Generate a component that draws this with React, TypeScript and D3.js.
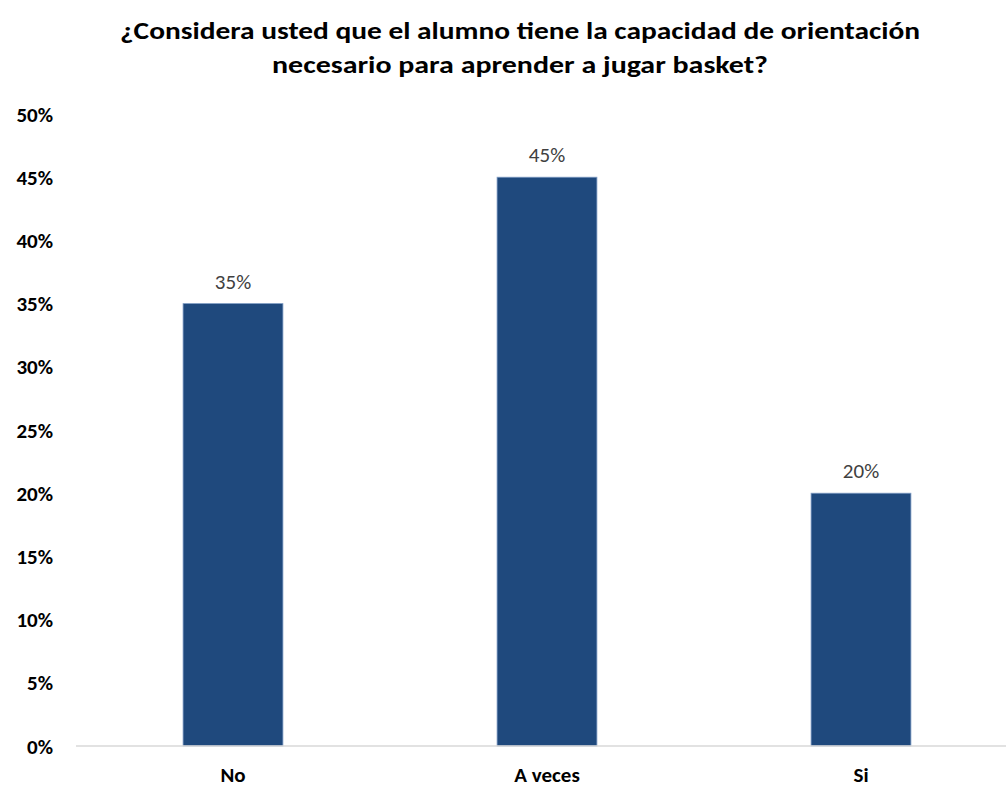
import React from "react";
import * as d3 from "d3";

const categories = ["No", "A veces", "Si"];
const values = [0.35, 0.45, 0.2];
const yTicks = [0, 0.05, 0.1, 0.15, 0.2, 0.25, 0.3, 0.35, 0.4, 0.45, 0.5];
const titleLines = [
  "¿Considera usted que el alumno tiene la capacidad de orientación",
  "necesario para aprender a jugar basket?",
];

const W = 1006;
const H = 787;
const FONT = "Carlito, Calibri, Lato, 'Open Sans', sans-serif";

export default function App() {
  const x = d3.scaleBand<string>().domain(categories).range([76, 1018]).padding(0);
  const y = d3.scaleLinear().domain([0, 0.5]).range([746, 114]);
  const barW = x.step() * 0.318;
  const fmt = d3.format(".0%");
  return (
    <svg
      width={W}
      height={H}
      style={{ position: "absolute", left: 0, top: 0, background: "#fff" }}
      fontFamily={FONT}
    >
      <text
        x={520}
        y={39}
        textAnchor="middle"
        fontSize={25}
        fontWeight="bold"
        fill="#000"
        textLength={800}
        lengthAdjust="spacingAndGlyphs"
      >
        {titleLines[0]}
      </text>
      <text
        x={520}
        y={73}
        textAnchor="middle"
        fontSize={25}
        fontWeight="bold"
        fill="#000"
        textLength={496}
        lengthAdjust="spacingAndGlyphs"
      >
        {titleLines[1]}
      </text>
      {yTicks.map((t) => (
        <text
          key={t}
          x={53}
          y={y(t)}
          dy="0.36em"
          textAnchor="end"
          fontSize={21}
          fontWeight="bold"
          fill="#000"
        >
          {fmt(t)}
        </text>
      ))}
      {categories.map((c, i) => {
        const cx = (x(c) as number) + x.bandwidth() / 2;
        return (
          <g key={c}>
            <rect
              x={cx - barW / 2}
              y={y(values[i])}
              width={barW}
              height={y(0) - y(values[i])}
              fill="#1F497D"
              stroke="#7f9cc4"
              strokeWidth={0.8}
            />
            <text
              x={cx}
              y={y(values[i]) - 15}
              textAnchor="middle"
              fontSize={21}
              fill="#404040"
            >
              {fmt(values[i])}
            </text>
            <text
              x={cx}
              y={782}
              textAnchor="middle"
              fontSize={21}
              fontWeight="bold"
              fill="#000"
            >
              {c}
            </text>
          </g>
        );
      })}
      <line x1={76} x2={1006} y1={y(0)} y2={y(0)} stroke="#d9d9d9" strokeWidth={1.5} />
    </svg>
  );
}
